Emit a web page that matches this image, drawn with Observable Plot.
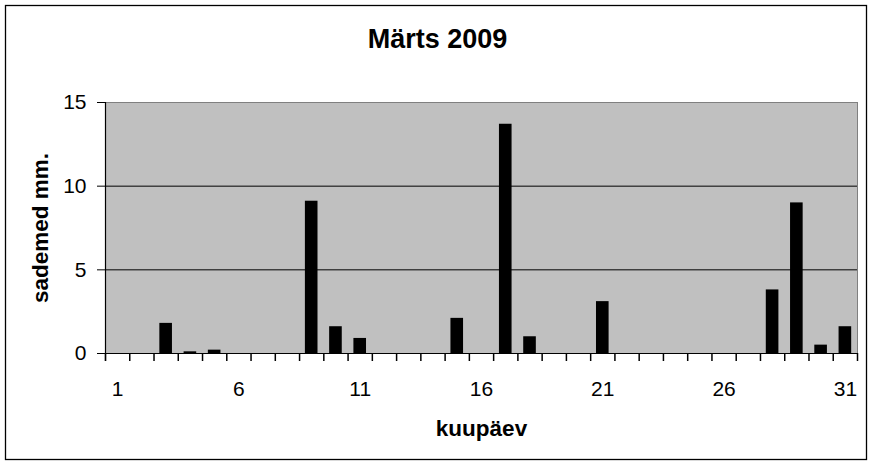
<!DOCTYPE html>
<html>
<head>
<meta charset="utf-8">
<script src="https://cdn.jsdelivr.net/npm/d3@7"></script>
<script src="https://cdn.jsdelivr.net/npm/@observablehq/plot@0.6"></script>
<style>
  html, body { margin: 0; padding: 0; background: #fff; }
  #chart svg { display: block; }
</style>
</head>
<body>
<div id="chart"></div>
<script>
const days = d3.range(1, 32);
const rainDays = [3, 4, 5, 9, 10, 11, 15, 17, 18, 21, 28, 29, 30, 31];
const rainValues = [1.8, 0.1, 0.2, 9.1, 1.6, 0.9, 2.1, 13.7, 1.0, 3.1, 3.8, 9.0, 0.5, 1.6];
const xTickLabels = [1, 6, 11, 16, 21, 26, 31];
const yTicks = [0, 5, 10, 15];
const gridValues = [5, 10];
const title = "Märts 2009";
const xLabel = "kuupäev";
const yLabel = "sademed mm.";

const data = rainDays.map((d, i) => ({day: d, value: rainValues[i]}));

const W = 874, H = 466;
const mL = 105, mR = 17, mT = 102, mB = 113;
const yMax = 15;
const step = (W - mL - mR) / days.length;
const tickLen = 8;
const tickDepth = -tickLen * yMax / (H - mT - mB);
const font = "'Liberation Sans', Arial, sans-serif";

const plot = Plot.plot({
  width: W,
  height: H,
  marginLeft: mL,
  marginRight: mR,
  marginTop: mT,
  marginBottom: mB,
  style: {fontFamily: font},
  x: {type: "band", domain: days, paddingInner: 0.48, paddingOuter: 0.24, round: false, axis: null},
  y: {domain: [0, yMax], axis: null},
  marks: [
    Plot.frame({fill: "#c0c0c0", stroke: "#808080"}),
    Plot.ruleY(gridValues, {stroke: "#000", strokeWidth: 1}),
    Plot.barY(data, {x: "day", y: "value", fill: "#000"}),
    Plot.ruleY([0], {stroke: "#000", strokeWidth: 1.2}),
    Plot.ruleX(days, {x: d => d, y1: 0, y2: tickDepth, dx: -step / 2, stroke: "#000", strokeWidth: 1.5}),
    Plot.ruleX([days[days.length - 1]], {x: d => d, y1: 0, y2: tickDepth, dx: step / 2, stroke: "#000", strokeWidth: 1.5}),
    Plot.ruleX([days[0]], {x: d => d, y1: tickDepth, y2: yMax, dx: -step / 2, stroke: "#000", strokeWidth: 1.2}),
    Plot.axisX(xTickLabels, {tickSize: 0, tickPadding: 28, fontSize: 21, label: null, fill: "#000"}),
    Plot.axisY(yTicks, {tickSize: 8, tickPadding: 11, fontSize: 21, label: null, stroke: "#000", fill: "#000"}),
    Plot.text([title], {frameAnchor: "top", lineAnchor: "middle", textAnchor: "middle", dx: (W / 2) - (mL + (W - mL - mR) / 2), dy: -63, fontSize: 27, fontWeight: "bold", fill: "#000"}),
    Plot.text([xLabel], {frameAnchor: "bottom", lineAnchor: "middle", textAnchor: "middle", dy: 75, fontSize: 22.5, fontWeight: "bold", fill: "#000"}),
    Plot.text([yLabel], {frameAnchor: "left", lineAnchor: "middle", textAnchor: "middle", dx: -65, rotate: -90, fontSize: 22.5, fontWeight: "bold", fill: "#000"})
  ]
});

const svg = d3.select(plot);
svg.append("rect")
  .attr("x", 5.5).attr("y", 5.5)
  .attr("width", 861).attr("height", 454)
  .attr("fill", "none").attr("stroke", "black").attr("stroke-width", 1.3);

document.getElementById("chart").appendChild(plot);
</script>
</body>
</html>
